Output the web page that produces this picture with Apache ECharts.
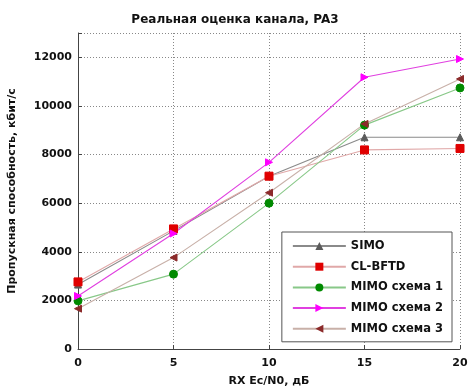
<!DOCTYPE html>
<html><head><meta charset="utf-8">
<script src="https://cdn.jsdelivr.net/npm/echarts@6/dist/echarts.min.js"></script>
<style>html,body{margin:0;padding:0;background:#fff}#c{width:470px;height:389px}</style>
</head><body><div id="c"></div>
<script>
var xValues = [0, 5, 10, 15, 20];
var seriesNames = ['SIMO', 'CL-BFTD', 'MIMO схема 1', 'MIMO схема 2', 'MIMO схема 3'];
var simo = [2650, 4860, 7110, 8710, 8710];
var clbftd = [2760, 4940, 7110, 8190, 8250];
var mimo1 = [1980, 3080, 6000, 9210, 10740];
var mimo2 = [2180, 4750, 7680, 11180, 11930];
var mimo3 = [1660, 3760, 6430, 9260, 11110];
var yTicks = [0, 2000, 4000, 6000, 8000, 10000, 12000];

function pts(arr){ return xValues.map(function(x,i){return [x, arr[i]];}); }
var font = 'DejaVu Sans, sans-serif';
var styles = [
  {line:'#8a8a8a', mk:'#5a5a5a', sym:'triangle', size:7, rot:0},
  {line:'#e0a8a8', mk:'#e00000', sym:'rect', size:8, rot:0},
  {line:'#88c888', mk:'#008a00', sym:'circle', size:8, rot:0},
  {line:'#e040e0', mk:'#ff00ff', sym:'triangle', size:7, rot:-90},
  {line:'#c8b0a8', mk:'#8b2a2a', sym:'triangle', size:7, rot:90}
];
var datas = [simo, clbftd, mimo1, mimo2, mimo3];
var chart = echarts.init(document.getElementById('c'));
chart.setOption({
  animation:false,
  backgroundColor:'#fff',
  title:{text:'Реальная оценка канала, PA3', left:'center', top:9,
    textStyle:{fontFamily:font, fontSize:12, fontWeight:'bold', color:'#111'}},
  grid:{left:78, right:10, top:33, bottom:40, outerBoundsMode:'none', containLabel:false},
  xAxis:{type:'value', min:0, max:20, interval:5,
    name:'RX Ec/N0, дБ', nameLocation:'middle', nameGap:27,
    nameTextStyle:{fontFamily:font, fontSize:11, fontWeight:'bold', color:'#111'},
    axisLine:{lineStyle:{color:'#444'}},
    axisTick:{show:true, inside:true, length:4, lineStyle:{color:'#444'}},
    axisLabel:{fontFamily:font, fontSize:11, fontWeight:'bold', color:'#111', margin:9},
    splitLine:{show:true, lineStyle:{type:[1,2], color:'#888'}}},
  yAxis:{type:'value', min:0, max:13000, interval:2000,
    name:'Пропускная способность, кбит/с', nameLocation:'middle', nameGap:60,
    nameTextStyle:{fontFamily:font, fontSize:11, fontWeight:'bold', color:'#111'},
    axisLine:{show:true, lineStyle:{color:'#444'}},
    axisTick:{show:true, inside:true, length:4, lineStyle:{color:'#444'}},
    axisLabel:{fontFamily:font, fontSize:11, fontWeight:'bold', color:'#111', margin:6,
      formatter:function(v){return yTicks.indexOf(v)>=0 ? String(v) : '';}},
    splitLine:{show:true, lineStyle:{type:[1,2], color:'#888'}}},
  legend:{orient:'vertical', right:18, top:232, backgroundColor:'#fff',
    borderColor:'#555', borderWidth:1, padding:[8,9,7,10], itemGap:8.7,
    itemWidth:53, itemHeight:10,
    textStyle:{fontFamily:font, fontSize:11.5, fontWeight:'bold', color:'#111'},
    data:seriesNames},
  series: datas.map(function(d,i){
    var s = styles[i];
    return {name:seriesNames[i], type:'line', data:pts(d), symbol:s.sym, symbolSize:s.size,
      symbolRotate:s.rot, showAllSymbol:true,
      lineStyle:{color:s.line, width:1.1},
      itemStyle:{color:s.mk, borderColor:s.mk}};
  })
});
</script></body></html>
